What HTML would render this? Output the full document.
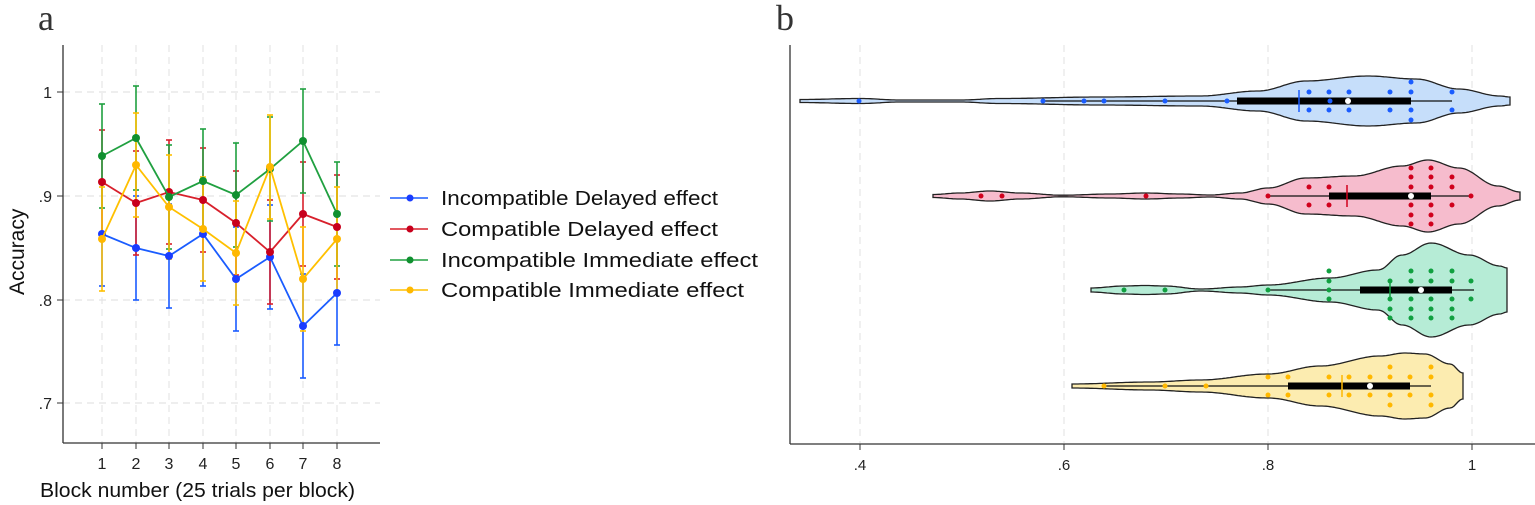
<!DOCTYPE html>
<html><head><meta charset="utf-8"><style>
html,body{margin:0;padding:0;background:#fff;}
svg{display:block;font-family:"Liberation Sans",Arial,sans-serif;}
</style></head><body>
<svg id="s" width="1535" height="505" viewBox="0 0 1535 505" xmlns="http://www.w3.org/2000/svg">
<rect width="1535" height="505" fill="#fff"/>
<text x="38" y="30" font-family="Liberation Serif,serif" font-size="36" fill="#333">a</text>
<text x="776" y="30" font-family="Liberation Serif,serif" font-size="36" fill="#333">b</text>
<g id="A"></g>
<g id="B"></g>
<g font-size="20" fill="#111">
<line x1="390" y1="198" x2="428" y2="198" stroke="#1a5cff" stroke-width="1.5"/><circle cx="410" cy="198" r="3.5" fill="#1a3cff"/>
<text x="441" y="205" textLength="277" lengthAdjust="spacingAndGlyphs">Incompatible Delayed effect</text>
<line x1="390" y1="229" x2="428" y2="229" stroke="#d8202c" stroke-width="1.5"/><circle cx="410" cy="229" r="3.5" fill="#c8001c"/>
<text x="441" y="236" textLength="277" lengthAdjust="spacingAndGlyphs">Compatible Delayed effect</text>
<line x1="390" y1="260" x2="428" y2="260" stroke="#20a040" stroke-width="1.5"/><circle cx="410" cy="260" r="3.5" fill="#109030"/>
<text x="441" y="267" textLength="317" lengthAdjust="spacingAndGlyphs">Incompatible Immediate effect</text>
<line x1="390" y1="290" x2="428" y2="290" stroke="#ffc000" stroke-width="1.5"/><circle cx="410" cy="290" r="3.5" fill="#ffb800"/>
<text x="441" y="297" textLength="303" lengthAdjust="spacingAndGlyphs">Compatible Immediate effect</text>
</g>
</svg>
<script>
var NS="http://www.w3.org/2000/svg";
function el(p,t,a,txt){var e=document.createElementNS(NS,t);for(var k in a)e.setAttribute(k,a[k]);if(txt!==undefined)e.textContent=txt;p.appendChild(e);return e;}
var A=document.getElementById("A"),B=document.getElementById("B");
[92,196,300,403].forEach(function(y){el(A,"line",{x1:63,y1:y,x2:380,y2:y,stroke:"#ddd","stroke-dasharray":"7,5"});});
var xs=[102,136,169,203,236,270,303,337];
xs.forEach(function(x,i){el(A,"line",{x1:x,y1:45,x2:x,y2:443,stroke:"#e2e2e2","stroke-dasharray":"7,5"});
 el(A,"line",{x1:x,y1:443,x2:x,y2:449,stroke:"#333"});
 el(A,"text",{x:x,y:469,"font-size":16,"text-anchor":"middle",fill:"#222"},String(i+1));});
el(A,"line",{x1:63,y1:45,x2:63,y2:443,stroke:"#333","stroke-width":1.3});
el(A,"line",{x1:63,y1:443,x2:380,y2:443,stroke:"#333","stroke-width":1.3});
[[92,"1"],[196,".9"],[300,".8"],[403,".7"]].forEach(function(t){el(A,"line",{x1:57,y1:t[0],x2:63,y2:t[0],stroke:"#333"});el(A,"text",{x:52,y:t[0]+6,"font-size":16,"text-anchor":"end",fill:"#222"},t[1]);});
el(A,"text",{x:40,y:497,"font-size":20,fill:"#111",textLength:315,lengthAdjust:"spacingAndGlyphs"},"Block number (25 trials per block)");
el(A,"text",{x:0,y:0,"font-size":21,fill:"#111",transform:"translate(24,295) rotate(-90)"},"Accuracy");
var series=[
 ["#1a5cff","#1a3cff",[234,248,256,234,279,257,326,293]],
 ["#d8202c","#c8001c",[182,203,192,200,223,252,214,227]],
 ["#20a040","#109030",[156,138,197,181,195,169,141,214]],
 ["#ffc000","#ffb800",[239,165,207,229,253,167,279,239]]];
series.forEach(function(s,k){
 var pts=xs.map(function(x,i){return x+","+s[2][i];}).join(" ");
 xs.forEach(function(x,i){var y=s[2][i],d=52;
  el(A,"line",{x1:x,y1:y-d,x2:x,y2:y+d,stroke:s[0],"stroke-width":1.6});
  el(A,"line",{x1:x-3,y1:y-d,x2:x+3,y2:y-d,stroke:s[0],"stroke-width":1.6});
  el(A,"line",{x1:x-3,y1:y+d,x2:x+3,y2:y+d,stroke:s[0],"stroke-width":1.6});});
 s.pts=pts;});
series.forEach(function(s){
 el(A,"polyline",{points:s.pts,fill:"none",stroke:s[0],"stroke-width":1.8});
 xs.forEach(function(x,i){el(A,"circle",{cx:x,cy:s[2][i],r:4,fill:s[1]});});});
[860,1064,1268,1472].forEach(function(x){el(B,"line",{x1:x,y1:45,x2:x,y2:443,stroke:"#e0e0e0","stroke-dasharray":"7,5"});});
el(B,"line",{x1:790,y1:45,x2:790,y2:444,stroke:"#333","stroke-width":1.3});
el(B,"line",{x1:790,y1:444,x2:1535,y2:444,stroke:"#333","stroke-width":1.3});
[[860,".4"],[1064,".6"],[1268,".8"],[1472,"1"]].forEach(function(t){el(B,"line",{x1:t[0],y1:444,x2:t[0],y2:450,stroke:"#333"});el(B,"text",{x:t[0],y:470,"font-size":15,"text-anchor":"middle",fill:"#222"},t[1]);});
function interp(prof,x){for(var i=0;i<prof.length-1;i++){var a=prof[i],b=prof[i+1];if(x>=a[0]&&x<=b[0]){var t=(x-a[0])/(b[0]-a[0]);t=(1-Math.cos(t*Math.PI))/2;return a[1]+(b[1]-a[1])*t;}}return prof[prof.length-1][1];}
function violin(prof,cy,fill){
 var x0=prof[0][0],x1=prof[prof.length-1][0],up=[],dn=[];
 for(var x=x0;x<=x1;x+=2){var h=interp(prof,x);up.push(x+","+(cy-h).toFixed(1));dn.unshift(x+","+(cy+h).toFixed(1));}
 var h1=prof[prof.length-1][1];up.push(x1+","+(cy-h1));dn.unshift(x1+","+(cy+h1));
 el(B,"path",{d:"M"+up.join(" L")+" L"+dn.join(" L")+"Z",fill:fill,stroke:"#222","stroke-width":1.3});}
function box(cy,col,wl,wr,bl,br,med,mean,center,cols){
 el(B,"line",{x1:wl,y1:cy,x2:wr,y2:cy,stroke:"#111","stroke-width":1.3});
 el(B,"rect",{x:bl,y:cy-3.5,width:br-bl,height:7,fill:"#000"});
 center.forEach(function(x){el(B,"circle",{cx:x,cy:cy,r:2.5,fill:col});});
 cols.forEach(function(c){c[1].forEach(function(o){el(B,"circle",{cx:c[0],cy:cy+o,r:2.5,fill:col});});});
 el(B,"line",{x1:mean,y1:cy-11,x2:mean,y2:cy+11,stroke:col,"stroke-width":1.5});
 el(B,"circle",{cx:med,cy:cy,r:3,fill:"#fff"});}
violin([[800,1.5],[860,2.5],[900,1],[960,1],[1000,2.5],[1100,4],[1200,5],[1258,10],[1306,20],[1368,25],[1416,22],[1459,12],[1500,5],[1510,4]],101,"#c6defa");
box(101,"#1a5cff",1043,1452,1237,1411,1348,1299,[859,1043,1084,1104,1165,1227,1330],
 [[1309,[-9,9]],[1329,[-9,9]],[1349,[-9,9]],[1390,[-9,9]],[1411,[-19,-9,9,19]],[1452,[-9,9]]]);
violin([[933,1.5],[960,3],[990,5],[1020,3],[1062,0.8],[1110,2],[1146,3],[1180,2],[1210,1],[1240,3],[1268,8],[1306,18],[1354,20],[1402,30],[1428,36],[1459,28],[1498,10],[1520,4]],196,"#f6bccd");
box(196,"#d0001c",1268,1471,1329,1431,1411,1347,[981,1002,1146,1268,1471],
 [[1309,[-9,9]],[1329,[-9,9]],[1411,[-28,-19,-9,9,19,28]],[1431,[-28,-19,-9,9,19,28]],[1452,[-19,-9,9]]]);
violin([[1091,2],[1124,4],[1145,4.5],[1165,4],[1201,1],[1240,3],[1268,5],[1330,12],[1378,20],[1402,35],[1431,47],[1469,35],[1500,24],[1507,22]],290,"#b6ecd6");
box(290,"#10a040",1268,1474,1360,1452,1421,1390,[1124,1165,1268,1329],
 [[1329,[-19,-9,9]],[1390,[-9,9,19,28]],[1411,[-19,-9,9,19,28]],[1431,[-19,-9,9,19,28]],[1452,[-19,-9,9,19,28]],[1471,[-9,9]]]);
violin([[1072,2],[1150,4],[1200,6],[1268,12],[1320,20],[1380,30],[1405,33],[1425,32],[1450,22],[1463,13]],386,"#fcecb0");
box(386,"#ffb800",1104,1431,1288,1410,1370,1342,[1104,1165,1206],
 [[1268,[-9,9]],[1288,[-9,9]],[1329,[-9,9]],[1349,[-9,9]],[1370,[-9,9]],[1390,[-19,-9,9,19]],[1410,[-9,9]],[1431,[-19,-9,9,19]]]);
</script>
</body></html>
